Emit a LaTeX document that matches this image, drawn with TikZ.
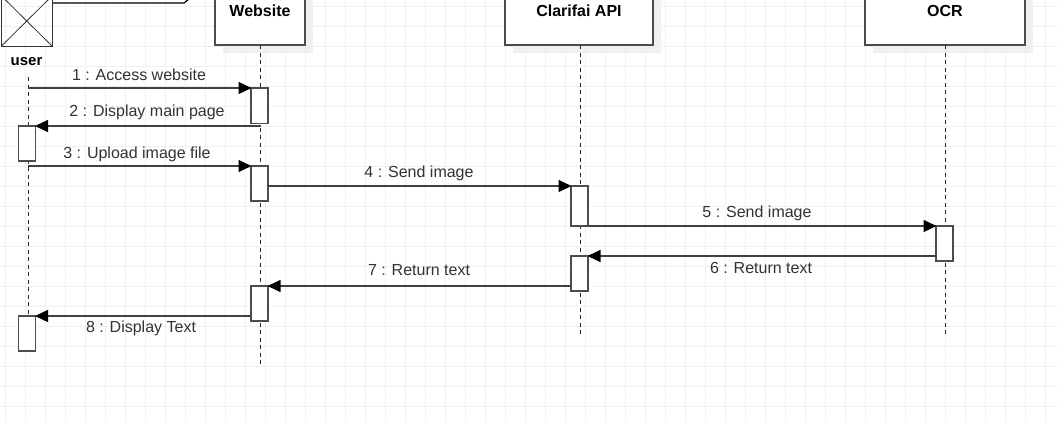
\documentclass[tikz,border=0pt]{standalone}
\usepackage{fontspec}
\setmainfont{Liberation Sans}
\usetikzlibrary{arrows.meta}
\usetikzlibrary{positioning}
\tikzset{
  head/.style={draw=black!70,fill=white,line width=1.3pt,outer sep=0pt,minimum height=68pt,inner sep=0pt,font=\fontsize{16}{19}\selectfont\bfseries},
  headshadow/.style={fill=black!6,draw=none},
  bar/.style={draw=black!70,fill=white,line width=1.3pt,outer sep=0pt,minimum width=17pt,inner sep=0pt},
  life/.style={dash pattern=on 4pt off 3.5pt,line width=1pt,black!85},
  msg/.style={-{Triangle[length=13pt,width=12pt,color=black,fill=black]},shorten >=-0.5pt,line width=1.3pt,black!75},
  txt/.style={text=black!80,inner sep=0pt,font=\fontsize{16}{19}\selectfont},
}
\begin{document}
\begin{tikzpicture}[x=1pt,y=-1pt]
    \useasboundingbox (0,0) rectangle (1058,421);
    \clip (0,0) rectangle (1058,421);
    \fill[white](0,0) rectangle (1058,421);

    \foreach \gx in {0,...,52} \draw[black!6,line width=0.8pt](5.7+20*\gx,0)--(5.7+20*\gx,421);
    \foreach \gy in {0,...,20} \draw[black!6,line width=0.8pt](0,6.7+20*\gy)--(1058,6.7+20*\gy);

    \fill[headshadow](223,-15) rectangle (313,53);
    \fill[headshadow](513,-15) rectangle (661,53);
    \fill[headshadow](873,-15) rectangle (1033,53);

    \draw[black,line width=1.2pt](52,3)--(184,3)--(189,-1);

    \node[draw=black!80,line width=1pt,outer sep=0pt,minimum width=50.5pt,minimum height=50pt,inner sep=0pt,anchor=south west] (actor) at (1.5,46) {};
    \draw[black!80,line width=0.8pt](actor.north west)--(actor.south east);
    \draw[black!80,line width=0.8pt](actor.north east)--(actor.south west);
    \node[txt,text=black,font=\fontsize{15}{18}\selectfont\bfseries] (user) at (26.5,62) {user};

    \node[head,minimum width=90pt] (website) at (260,11) {Website};
    \node[head,minimum width=148pt] (clarifai) at (579,11) {Clarifai API};
    \node[head,minimum width=160pt] (ocr) at (945,11) {OCR};

    \coordinate (userstart) at (28,77);
    \coordinate (userend) at (28,316);
    \coordinate (websiteend) at (260.6,365);
    \coordinate (clarifaiend) at (580,335);
    \coordinate (ocrend) at (945,335);

    \draw[life](userstart)--(userend);
    \draw[life](website.south-|websiteend)--(websiteend);
    \draw[life](clarifai.south-|clarifaiend)--(clarifaiend);
    \draw[life](ocr.south)--(ocrend);

    \node[bar,minimum height=35.5pt,anchor=north] (webA) at (259.5,88) {};
    \node[bar,minimum height=35pt,anchor=north] (webB) at (259.5,166) {};
    \node[bar,minimum height=35pt,anchor=north] (webC) at (259.5,286) {};
    \node[bar,minimum height=35pt,anchor=north] (userA) at (27,126) {};
    \node[bar,minimum height=35pt,anchor=north] (userB) at (27,316) {};
    \node[bar,minimum height=40pt,anchor=north] (clarA) at (579.5,186) {};
    \node[bar,minimum height=35pt,anchor=north] (clarB) at (579.5,256) {};
    \node[bar,minimum height=35pt,anchor=north] (ocrA) at (944.5,226) {};

    \coordinate (userone) at (28,88);
    \coordinate (webtwo) at (261,126);
    \coordinate (userthree) at (28,166);

    \draw[msg](userone)--(webA.north west);
    \draw[msg](webtwo)--(userA.north east);
    \draw[msg](userthree)--(webB.north west);
    \draw[msg](webB.east|-clarA.north)--(clarA.north west);
    \draw[msg](clarA.south east)--(ocrA.north west);
    \draw[msg](ocrA.west|-clarB.north)--(clarB.north east);
    \draw[msg](clarB.west|-webC.north)--(webC.north east);
    \draw[msg](webC.west|-userB.north)--(userB.north east);

    \node[txt] (labelone) at (139,74.5) {1 : Access website};
    \node[txt] (labeltwo) at (147,112.5) {2 : Display main page};
    \node[txt] (labelthree) at (137,154.5) {3 : Upload image file};
    \node[txt] (labelfour) at (419,173.5) {4 : Send image};
    \node[txt] (labelfive) at (757,213.5) {5 : Send image};
    \node[txt] (labelsix) at (761,268) {6 : Return text};
    \node[txt] (labelseven) at (419,270) {7 : Return text};
    \node[txt] (labeleight) at (141,328.5) {8 : Display Text};
\end{tikzpicture}
\end{document}
